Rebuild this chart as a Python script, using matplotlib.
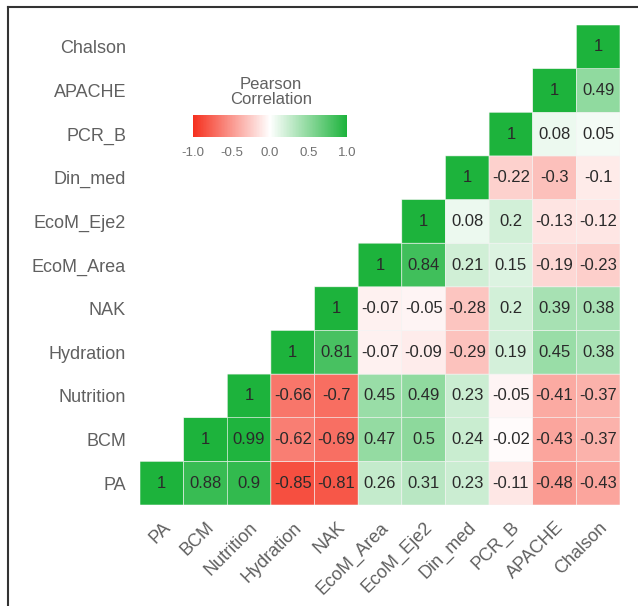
import matplotlib.pyplot as plt
import numpy as np
from matplotlib.colors import LinearSegmentedColormap
from matplotlib.lines import Line2D

plt.rcParams["font.family"] = ["Liberation Sans", "DejaVu Sans"]

variables = ["PA", "BCM", "Nutrition", "Hydration", "NAK", "EcoM_Area",
             "EcoM_Eje2", "Din_med", "PCR_B", "APACHE", "Chalson"]

# correlations of each variable with itself and the ones after it
r_PA = [1, 0.88, 0.9, -0.85, -0.81, 0.26, 0.31, 0.23, -0.11, -0.48, -0.43]
r_BCM = [1, 0.99, -0.62, -0.69, 0.47, 0.5, 0.24, -0.02, -0.43, -0.37]
r_Nutrition = [1, -0.66, -0.7, 0.45, 0.49, 0.23, -0.05, -0.41, -0.37]
r_Hydration = [1, 0.81, -0.07, -0.09, -0.29, 0.19, 0.45, 0.38]
r_NAK = [1, -0.07, -0.05, -0.28, 0.2, 0.39, 0.38]
r_EcoM_Area = [1, 0.84, 0.21, 0.15, -0.19, -0.23]
r_EcoM_Eje2 = [1, 0.08, 0.2, -0.13, -0.12]
r_Din_med = [1, -0.22, -0.3, -0.1]
r_PCR_B = [1, 0.08, 0.05]
r_APACHE = [1, 0.49]
r_Chalson = [1]

rows = [r_PA, r_BCM, r_Nutrition, r_Hydration, r_NAK, r_EcoM_Area,
        r_EcoM_Eje2, r_Din_med, r_PCR_B, r_APACHE, r_Chalson]

n = len(variables)
mat = np.full((n, n), np.nan)
for i, row in enumerate(rows):
    mat[i, i:] = row
mat = np.ma.masked_invalid(mat)

cmap = LinearSegmentedColormap.from_list("rwg", ["#F5301E", "#FFFFFF", "#1DB33C"])

fig = plt.figure(figsize=(6.38, 6.06), dpi=100)
ax = fig.add_axes([140 / 638, 101 / 606, 480 / 638, 480 / 606])
# pcolor skips masked cells, so the empty half gets no outlines
mesh = ax.pcolor(np.arange(n + 1), np.arange(n + 1), mat, cmap=cmap,
                 vmin=-1, vmax=1, edgecolors="#f4f4f4", linewidth=0.4)

for i, row in enumerate(rows):
    for k, v in enumerate(row):
        j = i + k
        ax.text(j + 0.5, i + 0.5, f"{v:g}", ha="center", va="center",
                fontsize=12, color="#2a2a2a")

ax.set_xlim(0, n)
ax.set_ylim(0, n)
ax.set_xticks(np.arange(n) + 0.5)
ax.set_yticks(np.arange(n) + 0.5)
ax.set_xticklabels(variables, rotation=45, ha="right", va="top",
                   rotation_mode="anchor", fontsize=13, color="#606060")
ax.set_yticklabels(variables, fontsize=13, color="#606060")
ax.tick_params(length=0, pad=10)
for s in ax.spines.values():
    s.set_visible(False)

# legend colour bar
cax = fig.add_axes([193 / 638, 469 / 606, 154 / 638, 22 / 606])
cb = fig.colorbar(mesh, cax=cax, orientation="horizontal",
                  ticks=[-1, -0.5, 0, 0.5, 1])
cb.outline.set_visible(False)
cb.ax.set_xticklabels(["-1.0", "-0.5", "0.0", "0.5", "1.0"], fontsize=9.5,
                      color="#707070")
cb.ax.tick_params(length=0, pad=7)
fig.text(271 / 638, 1 - 92 / 606, "Pearson\nCorrelation", ha="center",
         va="center", fontsize=12, color="#606060", linespacing=1.05)

# frame
fig.add_artist(Line2D([8 / 638, 8 / 638], [0, 1 - 7 / 606],
                      transform=fig.transFigure, color="#333333", lw=1.5))
fig.add_artist(Line2D([8 / 638, 1], [1 - 7 / 606, 1 - 7 / 606],
                      transform=fig.transFigure, color="#333333", lw=1.5))

fig.savefig("out.png", dpi=100)
